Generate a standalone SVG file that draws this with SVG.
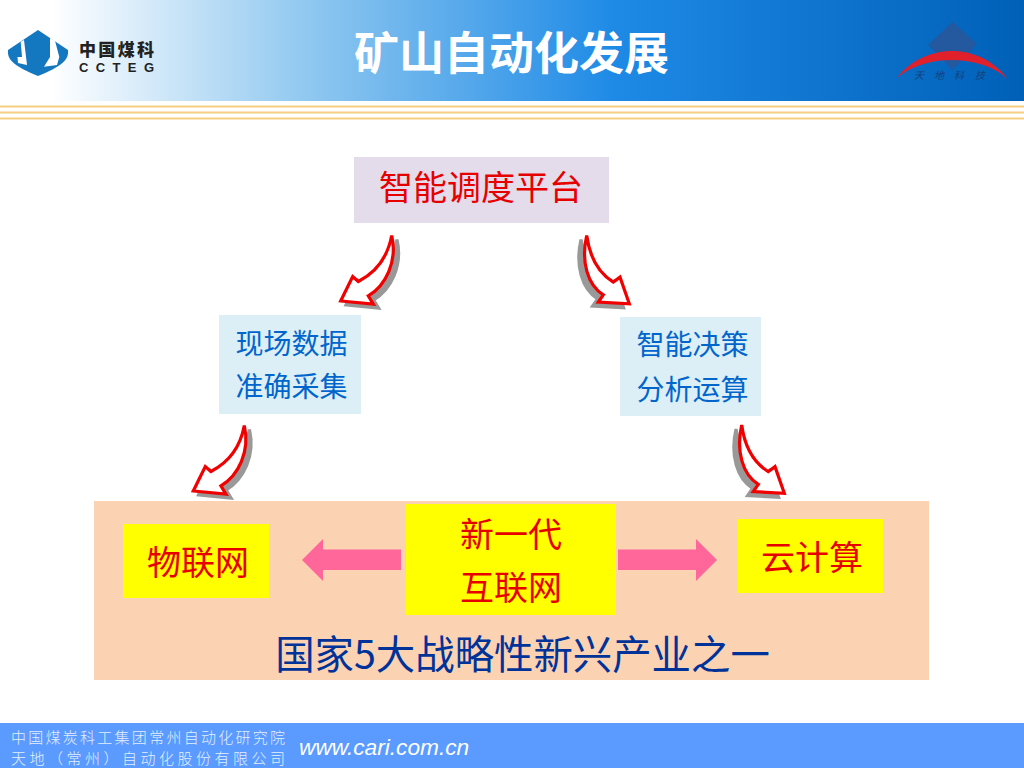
<svg xmlns="http://www.w3.org/2000/svg" width="1024" height="768" viewBox="0 0 1024 768">
<style>
.cjk{font-family:"Noto Sans CJK SC","Liberation Sans",sans-serif}
.mid{text-anchor:middle}
.red{fill:#e60000;font-size:34px}
.blue{fill:#0066cc;font-size:28px}
.curve{fill:#fff;stroke:#f00000;stroke-width:3.2;stroke-linejoin:miter}
.shade{fill:#999;stroke:#999;stroke-width:3.2}
.pink{fill:#ff6699}
.gold{stroke:#f5cf80;stroke-width:2.2}
.foot{fill:#e2eeff;font-size:15px;font-weight:300}
.sm{fill:#14407a;font-size:10px;font-style:italic}
</style>
<defs>
<linearGradient id="hdr" x1="0" y1="0" x2="1" y2="0">
<stop offset="0" stop-color="#fff"/>
<stop offset="0.05" stop-color="#fff"/>
<stop offset="0.3" stop-color="#90c8f0"/>
<stop offset="0.6" stop-color="#1e8ae6"/>
<stop offset="1" stop-color="#0060b8"/>
</linearGradient>
<path id="dl" d="M0,0C-4,22-16,37-33.4,46L-39,41-51,65.5-18.4,68.6-23.4,60.3C-6,50 6,26 0,0Z"/>
<path id="dr" d="M0,0C3,22 11,37 26.6,46.6L33.3,41.6 42.6,68.3 11.6,66.6 16.6,59.3C1,50-6,26 0,0Z"/>
</defs>
<g id="header">
<rect width="1024" height="101" fill="url(#hdr)"/>
<line class="gold" x1="0" x2="1024" y1="106.5" y2="106.5"/>
<line class="gold" x1="0" x2="1024" y1="112.5" y2="112.5"/>
<line class="gold" x1="0" x2="1024" y1="118.5" y2="118.5"/>
<text class="cjk mid" x="511.5" y="70" font-size="45" font-weight="700" fill="#fff">矿山自动化发展</text>
</g>
<g id="logo-left">
<path d="M38,30 68,50C69,60 62,66 38,76 14,66 7,60 8,50Z" fill="#1478c0"/>
<path d="M20.7,41.7 24,40 27,65 18,63 17.5,57 22,57ZM50,38 55,40.7 59.3,57 57,65 44,66.7 50,57Z" fill="#fff"/>
<text class="cjk" x="79" y="56" font-size="17" font-weight="900" fill="#222" textLength="75" lengthAdjust="spacing">中国煤科</text>
<text x="79" y="72" font-size="13" font-weight="700" font-family="Liberation Sans,sans-serif" fill="#222" textLength="75" lengthAdjust="spacing">CCTEG</text>
</g>
<g id="logo-right">
<path d="M952.7,21.7 976.7,44 952.7,70 928.3,45Z" fill="#24589f"/>
<path d="M897,78C925,42 980,42 1007.7,79 980,54 925,54 897,78Z" fill="#e0202a"/>
<text class="cjk sm" x="914" y="79">天</text>
<text class="cjk sm" x="934" y="79">地</text>
<text class="cjk sm" x="954" y="79">科</text>
<text class="cjk sm" x="975" y="79">技</text>
</g>
<g id="node-platform">
<rect x="354" y="157" width="255" height="66" fill="#e4dcea"/>
<text class="cjk mid" x="481" y="200" font-size="34" fill="#e60000">智能调度平台</text>
</g>
<g id="node-field">
<rect x="219" y="315" width="142" height="99" fill="#dceef6"/>
<text class="cjk mid blue" x="291.5" y="354">现场数据</text>
<text class="cjk mid blue" x="291.5" y="397">准确采集</text>
</g>
<g id="node-decision">
<rect x="620" y="317" width="141" height="99" fill="#dceef6"/>
<text class="cjk mid blue" x="692.5" y="355">智能决策</text>
<text class="cjk mid blue" x="692.5" y="400">分析运算</text>
</g>
<g id="band">
<rect x="94" y="501" width="835" height="179" fill="#fbd2b2"/>
<text class="cjk mid" x="522.5" y="669" font-size="39.4" fill="#003399">国家5大战略性新兴产业之一</text>
</g>
<g id="node-iot">
<rect x="123" y="524" width="146" height="74" fill="#ff0"/>
<text class="cjk mid red" x="198" y="575">物联网</text>
</g>
<g id="node-internet">
<rect x="406" y="504" width="210" height="111" fill="#ff0"/>
<text class="cjk mid red" x="511" y="547">新一代</text>
<text class="cjk mid red" x="511" y="600">互联网</text>
</g>
<g id="node-cloud">
<rect x="738" y="519" width="145" height="74" fill="#ff0"/>
<text class="cjk mid red" x="812" y="570">云计算</text>
</g>
<g id="connectors">
<use href="#dl" class="shade" transform="translate(397,239.5)"/>
<use href="#dl" class="curve" transform="translate(391.7,235.5)"/>
<use href="#dr" class="shade" transform="translate(581,239.5)"/>
<use href="#dr" class="curve" transform="translate(586.7,235.5)"/>
<use href="#dl" class="shade" transform="translate(249.5,429.5)"/>
<use href="#dl" class="curve" transform="translate(244.3,425.5)"/>
<use href="#dr" class="shade" transform="translate(736,429)"/>
<use href="#dr" class="curve" transform="translate(741.7,425)"/>
<path class="pink" d="M302,560 323,539V549.5H401V570H323V581Z"/>
<path class="pink" d="M717,560 696,539V549.5H618V570H696V581Z"/>
</g>
<g id="footer">
<rect y="723" width="1024" height="45" fill="#5b9bff"/>
<text class="cjk foot" x="11" y="743" textLength="274" lengthAdjust="spacing">中国煤炭科工集团常州自动化研究院</text>
<text class="cjk foot" x="11" y="763.5" textLength="274" lengthAdjust="spacing">天地（常州）自动化股份有限公司</text>
<text x="299" y="755" font-size="22.7" font-style="italic" font-family="Liberation Sans,sans-serif" fill="#fff">www.cari.com.cn</text>
</g>
</svg>
